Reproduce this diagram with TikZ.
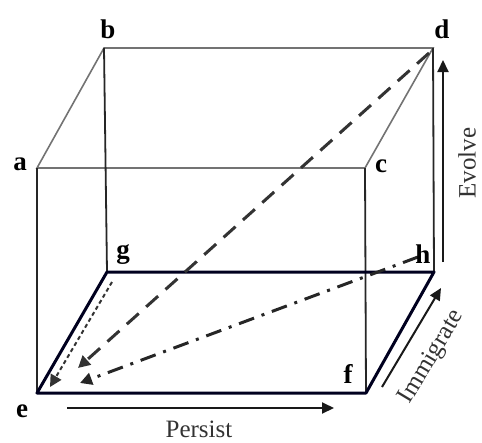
\documentclass[tikz,border=0pt]{standalone}
\usepackage{fontspec}
\setmainfont{Liberation Serif}
\usetikzlibrary{arrows.meta}
\begin{document}
\begin{tikzpicture}[x=1pt,y=-1pt,
  topedge/.style={draw=black!55,line width=1.6pt},
  vedge/.style={draw=black!85,line width=1.8pt},
  botedge/.style={draw=black!80!blue!60!black,line width=3pt,line join=round},
  lbl/.style={font=\fontsize{27}{30}\selectfont\bfseries,anchor=base,inner sep=0pt},
  word/.style={font=\fontsize{25}{30}\selectfont,text=black!80,inner sep=0pt},
  axisarrow/.style={draw=black!90,line width=2pt,-{Triangle[length=12pt,width=11pt]}},
  tipA/.style={-{Triangle[length=12pt,width=12pt]}},
]
\useasboundingbox (0,0) rectangle (482,442);
% corners
\coordinate (a) at (37,168);
\coordinate (b) at (104,48);
\coordinate (c) at (365,168);
\coordinate (d) at (433,48);
\coordinate (e) at (37,393);
\coordinate (f) at (366,393);
\coordinate (g) at (107,272);
\coordinate (h) at (434,272);
% top face
\draw[topedge] (a) -- (b) -- (d) -- (c) -- cycle;
% verticals
\draw[vedge] (a) -- (e);
\draw[vedge] (b) -- (g);
\draw[vedge] (c) -- (f);
\draw[vedge] (d) -- (h);
% bottom face
\draw[botedge] (e) -- (f) -- (h) -- (g) -- cycle;
% diagonals
\coordinate (d0) at (429,53);
\coordinate (d1) at (78,368);
\draw[draw=black!80,line width=3pt,dash pattern=on 16pt off 10pt,tipA] (d0) -- (d1);
\coordinate (g0) at (112,282);
\coordinate (g1) at (50,387);
\draw[draw=black!80,line width=2pt,dash pattern=on 4pt off 3pt,-{Triangle[length=12pt,width=12pt]}] (g0) -- (g1);
\coordinate (h0) at (418,257);
\coordinate (h1) at (80,383);
\draw[draw=black!85,line width=3pt,dash pattern=on 16pt off 8pt on 3pt off 8pt,-{Triangle[length=12pt,width=12pt]}] (h0) -- (h1);
% labels
\node[lbl] (la) at (20,170) {a};
\node[lbl] (lb) at (108,38) {b};
\node[lbl] (lc) at (381,172) {c};
\node[lbl] (ld) at (442,38) {d};
\node[lbl] (le) at (22,417) {e};
\node[lbl] (lf) at (348,383) {f};
\node[lbl] (lg) at (123,258) {g};
\node[lbl] (lh) at (423,263) {h};
% axes arrows
\coordinate (ev0) at (443,262);
\coordinate (ev1) at (443,60);
\draw[axisarrow] (ev0) -- (ev1);
\node[word,rotate=90] (evolve) at (467,163) {Evolve};
\coordinate (pe0) at (67,408);
\coordinate (pe1) at (334,408);
\draw[axisarrow] (pe0) -- (pe1);
\node[word] (persist) at (199,429) {Persist};
\coordinate (im0) at (382,387);
\coordinate (im1) at (441,288);
\draw[axisarrow] (im0) -- (im1);
\node[word,rotate=59] (immigrate) at (432,357) {Immigrate};
\end{tikzpicture}
\end{document}
